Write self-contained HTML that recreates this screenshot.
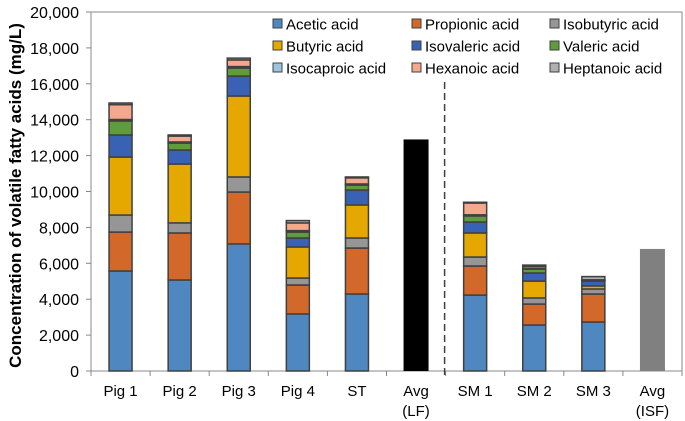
<!DOCTYPE html>
<html><head><meta charset="utf-8"><style>
body{margin:0;background:#fff;}
svg{display:block;font-family:"Liberation Sans",Arial,sans-serif;}
</style></head><body>
<svg id="chart" width="685" height="421"></svg>
<script>
const categories=["Pig 1","Pig 2","Pig 3","Pig 4","ST","Avg|(LF)","SM 1","SM 2","SM 3","Avg|(ISF)"];
const seriesNames=["Acetic acid","Propionic acid","Isobutyric acid","Butyric acid","Isovaleric acid","Valeric acid","Isocaproic acid","Hexanoic acid","Heptanoic acid"];
const acetic=[5570,5070,7080,3180,4290,0,4230,2560,2730,0];
const propionic=[2170,2620,2890,1610,2560,0,1620,1170,1560,0];
const isobutyric=[950,560,840,390,560,0,500,340,280,0];
const butyric=[3230,3280,4510,1730,1840,0,1340,940,170,0];
const isovaleric=[1230,780,1110,500,830,0,610,450,270,0];
const valeric=[780,390,450,330,280,0,340,220,20,0];
const isocaproic=[80,60,80,80,60,0,60,50,20,0];
const hexanoic=[830,330,370,430,340,0,660,110,30,0];
const heptanoic=[90,60,100,130,50,0,40,60,180,0];
const averages=[null,null,null,null,null,12900,null,null,null,6800];
const yTicks=[0,2000,4000,6000,8000,10000,12000,14000,16000,18000,20000];
const series=[acetic,propionic,isobutyric,butyric,isovaleric,valeric,isocaproic,hexanoic,heptanoic];
const colors=["#4f87c0","#d2692a","#969696","#e5a800","#3a62b4","#5e9c3c","#9cc3e0","#f4a88e","#b0b0b0"];
const svg=document.getElementById('chart');
const NS="http://www.w3.org/2000/svg";
const X0=91,X1=682,Y0=371,Y1=12,YMAX=20000;
const step=(X1-X0)/categories.length, BW=23;
function y(v){return Y0-(v/YMAX)*(Y0-Y1);}
function xc(i){return X0+step*(i+0.5);}
function mk(tag,attrs,parent){const e=document.createElementNS(NS,tag);for(const k in attrs)e.setAttribute(k,attrs[k]);(parent||svg).appendChild(e);return e;}
let fr=mk('rect',{x:X0,y:Y1,width:X1-X0,height:Y0-Y1,fill:'none',stroke:'#888','stroke-width':1});


yTicks.forEach(t=>{
 let l=mk('line',{x1:X0-5,x2:X0,y1:y(t),y2:y(t),stroke:'#888'});
 
 
 let tx=mk('text',{x:X0-12,y:y(t)+6,'text-anchor':'end','font-size':16,fill:'#000'});
 tx.textContent=t.toLocaleString('en-US');
 
 
});
for(let i=0;i<=categories.length;i++){
 let l=mk('line',{x1:X0+step*i,x2:X0+step*i,y1:Y0,y2:Y0+5,stroke:'#888'});
 
 
}
categories.forEach((c,i)=>{
 const parts=c.split('|');
 parts.forEach((p,j)=>{
  let tx=mk('text',{x:xc(i),y:396+j*20,'text-anchor':'middle','font-size':15,fill:'#000'});
  tx.textContent=p;
  
  
 });
 if(averages[i]!=null){
  let r=mk('rect',{x:xc(i)-BW/2-1,y:y(averages[i]),width:BW+2,height:Y0-y(averages[i]),fill:i===5?'#000':'#808080'});
  
  
  return;
 }
 let cum=0;
 series.forEach((s,k)=>{
  const v=s[i]; if(!v) return;
  let r=mk('rect',{x:xc(i)-BW/2,y:y(cum+v),width:BW,height:y(cum)-y(cum+v),fill:colors[k],stroke:'#404040','stroke-width':1.5});
  
  
  cum+=v;
 });
});
let dl=mk('line',{x1:X0+step*6-1,x2:X0+step*6-1,y1:82,y2:Y0+8,stroke:'#404040','stroke-width':1.5,'stroke-dasharray':'7,4'});


let yt=mk('text',{x:0,y:0,transform:'translate(21,'+((Y0+Y1)/2+4)+') rotate(-90)','text-anchor':'middle','font-size':17,'font-weight':'bold',fill:'#000'});
yt.textContent='Concentration of volatile fatty acids (mg/L)';


const legX=[273,412,550],legY=[24,46,68];
seriesNames.forEach((n,k)=>{
 const lx=legX[k%3],ly=legY[Math.floor(k/3)];
 let g=mk('g',{});
 
 
 mk('rect',{x:lx,y:ly-5,width:9,height:9,fill:colors[k],stroke:'#404040','stroke-width':1},g);
 let t=mk('text',{x:lx+13,y:ly+5.5,'font-size':15,fill:'#000'},g);
 t.textContent=n;
});
</script>
</body></html>
